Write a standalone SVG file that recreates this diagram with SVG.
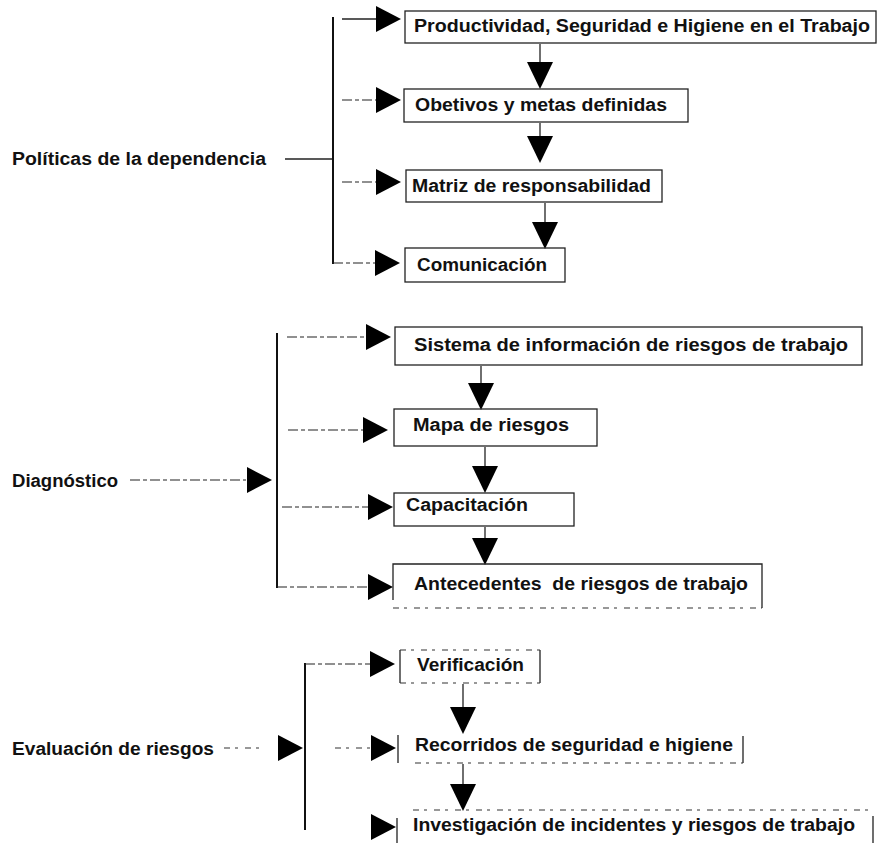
<svg xmlns="http://www.w3.org/2000/svg" xmlns:xlink="http://www.w3.org/1999/xlink" width="880" height="843" viewBox="0 0 880 843">
<style>
  .t { font-family: "Liberation Sans", Arial, sans-serif; font-weight: bold; font-size: 18px; fill: #111; }
  .box { fill: none; stroke: #222; stroke-width: 1.3; }
  .ln { fill: none; stroke: #222; stroke-width: 1.3; }
  .bar { fill: none; stroke: #111; stroke-width: 2; }
  .dash { fill: none; stroke: #222; stroke-width: 1.2; stroke-dasharray: 10 3 4 3; }
  .dot { fill: none; stroke: #333; stroke-width: 1.2; stroke-dasharray: 6 5 3 7; }
  .tri { fill: #000; }
</style>
<defs>
  <path id="tr" d="M0,-13 L25,0 L0,13 Z"/>
  <path id="td" d="M-13,0 L13,0 L0,27 Z"/>
</defs>
<rect width="880" height="843" fill="#fff"/>

<!-- Connectors -->
<g id="connectors">
  <!-- Group 1: Políticas -->
  <line class="ln" x1="285" y1="159" x2="333" y2="159"/>
  <line class="bar" x1="333" y1="17" x2="333" y2="264"/>
  <line class="ln" x1="342" y1="19" x2="378" y2="19"/>
  <line class="dash" x1="342" y1="100" x2="378" y2="100"/>
  <line class="dash" x1="342" y1="182" x2="378" y2="182"/>
  <line class="dash" x1="333" y1="263" x2="376" y2="263"/>
  <use class="tri" xlink:href="#tr" x="376" y="19"/>
  <use class="tri" xlink:href="#tr" x="376" y="100"/>
  <use class="tri" xlink:href="#tr" x="376" y="182"/>
  <use class="tri" xlink:href="#tr" x="375" y="263"/>
  <line class="ln" x1="540" y1="44" x2="540" y2="62"/>
  <use class="tri" xlink:href="#td" x="540" y="62"/>
  <line class="ln" x1="540" y1="123" x2="540" y2="136"/>
  <use class="tri" xlink:href="#td" x="540" y="136"/>
  <line class="ln" x1="545" y1="203" x2="545" y2="222"/>
  <use class="tri" xlink:href="#td" x="545" y="222"/>

  <!-- Group 2: Diagnóstico -->
  <line class="dash" x1="130" y1="480" x2="246" y2="480"/>
  <use class="tri" xlink:href="#tr" x="247" y="480"/>
  <line class="bar" x1="277" y1="333" x2="277" y2="588"/>
  <line class="dash" x1="287" y1="337" x2="366" y2="337"/>
  <line class="dash" x1="288" y1="430" x2="363" y2="430"/>
  <line class="dash" x1="282" y1="507" x2="368" y2="507"/>
  <line class="dash" x1="277" y1="587" x2="368" y2="587"/>
  <use class="tri" xlink:href="#tr" x="366" y="337"/>
  <use class="tri" xlink:href="#tr" x="363" y="430"/>
  <use class="tri" xlink:href="#tr" x="368" y="507"/>
  <use class="tri" xlink:href="#tr" x="368" y="587"/>
  <line class="ln" x1="481" y1="366" x2="481" y2="383"/>
  <use class="tri" xlink:href="#td" x="481" y="383"/>
  <line class="ln" x1="485" y1="447" x2="485" y2="466"/>
  <use class="tri" xlink:href="#td" x="485" y="466"/>
  <line class="ln" x1="485" y1="527" x2="485" y2="538"/>
  <use class="tri" xlink:href="#td" x="485" y="538"/>

  <!-- Group 3: Evaluación -->
  <line class="dot" x1="224" y1="748" x2="262" y2="748"/>
  <use class="tri" xlink:href="#tr" x="278" y="748"/>
  <line class="bar" x1="305" y1="663" x2="305" y2="830"/>
  <line class="dash" x1="305" y1="664" x2="370" y2="664"/>
  <line class="dot" x1="335" y1="748" x2="370" y2="748"/>
  <use class="tri" xlink:href="#tr" x="370" y="664"/>
  <use class="tri" xlink:href="#tr" x="371" y="748"/>
  <use class="tri" xlink:href="#tr" x="371" y="827"/>
  <line class="ln" x1="463" y1="684" x2="463" y2="707"/>
  <use class="tri" xlink:href="#td" x="463" y="707"/>
  <line class="ln" x1="463" y1="764" x2="463" y2="784"/>
  <use class="tri" xlink:href="#td" x="463" y="784"/>
</g>

<!-- Labels -->
<g id="politicas">
  <text class="t" x="12" y="165" textLength="254" lengthAdjust="spacingAndGlyphs">Políticas de la dependencia</text>
</g>
<g id="diagnostico">
  <text class="t" x="12" y="487" textLength="106" lengthAdjust="spacingAndGlyphs">Diagnóstico</text>
</g>
<g id="evaluacion">
  <text class="t" x="12" y="755" textLength="202" lengthAdjust="spacingAndGlyphs">Evaluación de riesgos</text>
</g>

<!-- Group 1 nodes -->
<g id="productividad">
  <rect class="box" x="405" y="11" width="471" height="32"/>
  <text class="t" x="414" y="32" textLength="456" lengthAdjust="spacingAndGlyphs">Productividad, Seguridad e Higiene en el Trabajo</text>
</g>
<g id="objetivos">
  <rect class="box" x="404" y="89" width="284" height="33"/>
  <text class="t" x="415" y="111" textLength="252" lengthAdjust="spacingAndGlyphs">Obetivos y metas definidas</text>
</g>
<g id="matriz">
  <rect class="box" x="406" y="170" width="256" height="32"/>
  <text class="t" x="412" y="192" textLength="239" lengthAdjust="spacingAndGlyphs">Matriz de responsabilidad</text>
</g>
<g id="comunicacion">
  <rect class="box" x="405" y="248" width="160" height="34"/>
  <text class="t" x="417" y="271" textLength="130" lengthAdjust="spacingAndGlyphs">Comunicación</text>
</g>

<!-- Group 2 nodes -->
<g id="sistema">
  <rect class="box" x="395" y="327" width="467" height="38"/>
  <text class="t" x="414" y="351" textLength="434" lengthAdjust="spacingAndGlyphs">Sistema de información de riesgos de trabajo</text>
</g>
<g id="mapa">
  <rect class="box" x="394" y="409" width="203" height="37"/>
  <text class="t" x="413" y="431" textLength="156" lengthAdjust="spacingAndGlyphs">Mapa de riesgos</text>
</g>
<g id="capacitacion">
  <rect class="box" x="394" y="493" width="180" height="33"/>
  <text class="t" x="406" y="511" textLength="122" lengthAdjust="spacingAndGlyphs">Capacitación</text>
</g>
<g id="antecedentes">
  <path class="ln" d="M393,600 V564 H762 V608"/>
  <line class="dot" x1="393" y1="608" x2="762" y2="608"/>
  <text class="t" x="414" y="590" textLength="334" lengthAdjust="spacingAndGlyphs" xml:space="preserve" style="white-space:pre">Antecedentes  de riesgos de trabajo</text>
</g>

<!-- Group 3 nodes -->
<g id="verificacion">
  <path class="ln" d="M400,650 V683 M540,650 V683"/>
  <line class="dot" x1="400" y1="650" x2="540" y2="650"/>
  <line class="dot" x1="400" y1="683" x2="540" y2="683"/>
  <text class="t" x="417" y="671" textLength="107" lengthAdjust="spacingAndGlyphs">Verificación</text>
</g>
<g id="recorridos">
  <path class="ln" d="M398,735 V763 M743,736 V763"/>
  <line class="dot" x1="415" y1="763" x2="743" y2="763"/>
  <text class="t" x="415" y="751" textLength="318" lengthAdjust="spacingAndGlyphs">Recorridos de seguridad e higiene</text>
</g>
<g id="investigacion">
  <path class="ln" d="M397,818 V843 M873,816 V843"/>
  <line class="dot" x1="413" y1="810" x2="868" y2="810"/>
  <text class="t" x="413" y="831" textLength="442" lengthAdjust="spacingAndGlyphs">Investigación de incidentes y riesgos de trabajo</text>
</g>
</svg>
